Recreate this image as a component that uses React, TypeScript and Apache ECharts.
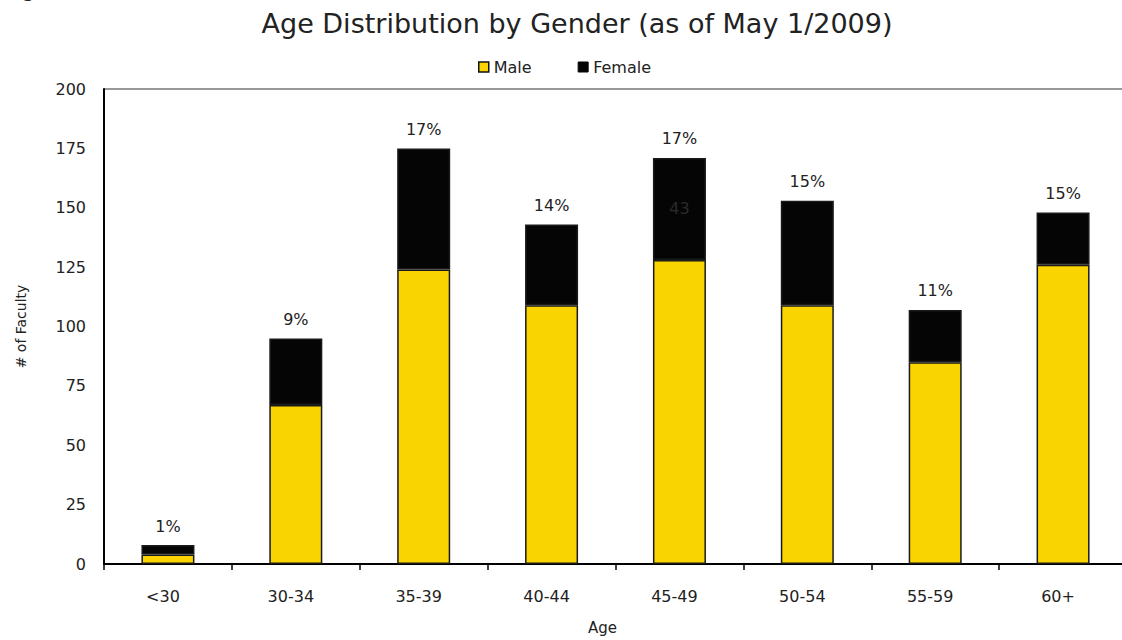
import React, { useEffect, useRef } from "react";
import * as echarts from "echarts";

const categories = ["<30", "30-34", "35-39", "40-44", "45-49", "50-54", "55-59", "60+"];
const maleValues = [4, 67, 124, 109, 128, 109, 85, 126];
const femaleValues = [4, 28, 51, 34, 43, 44, 22, 22];
const percentLabels = ["1%", "9%", "17%", "14%", "17%", "15%", "11%", "15%"];
const yTicks = [0, 25, 50, 75, 100, 125, 150, 175, 200];

const FONT = "DejaVu Sans, Verdana, sans-serif";

export default function App() {
  const ref = useRef<HTMLDivElement>(null);
  useEffect(() => {
    if (!ref.current) return;
    const chart = echarts.init(ref.current, undefined, { renderer: "svg" });
    chart.setOption({
      animation: false,
      textStyle: { fontFamily: FONT },
      title: {
        text: "Age Distribution by Gender (as of May 1/2009)",
        left: 572,
        textAlign: "center",
        top: 5,
        textStyle: { fontFamily: FONT, fontSize: 27, fontWeight: "normal", color: "#222" },
      },
      legend: {
        top: 54,
        left: 473,
        itemWidth: 10,
        itemHeight: 10,
        itemGap: 46,
        icon: "rect",
        textStyle: { fontFamily: FONT, fontSize: 16, color: "#222", padding: [0, 0, 0, 0] },
        data: [
          { name: "Male", itemStyle: { color: "#FAD400", borderColor: "#111", borderWidth: 1.5 } },
          { name: "Female", itemStyle: { color: "#050505", borderColor: "#050505", borderWidth: 1 } },
        ],
      },
      graphic: [
        {
          type: "text",
          left: 22,
          top: -20,
          style: { text: "g", fontFamily: FONT, fontSize: 20, fill: "#222" },
        },
      ],
      grid: {
        left: 104,
        right: 13,
        top: 89,
        bottom: 76,
        show: true,
        borderColor: "#333",
        borderWidth: 1,
      },
      xAxis: {
        type: "category",
        data: categories,
        name: "Age",
        nameLocation: "middle",
        nameGap: 56,
        nameTextStyle: { fontFamily: FONT, fontSize: 15, color: "#222", padding: [0, 26, 0, 0] },
        axisLine: { lineStyle: { color: "#000", width: 2 } },
        axisTick: { show: true, length: 6, lineStyle: { color: "#000", width: 1.5 } },
        axisLabel: { fontFamily: FONT, fontSize: 16, color: "#222", margin: 24, padding: [0, 10, 0, 0] },
      },
      yAxis: {
        type: "value",
        min: yTicks[0],
        max: yTicks[yTicks.length - 1],
        interval: 25,
        name: "# of Faculty",
        nameLocation: "middle",
        nameGap: 76,
        nameRotate: 90,
        nameTextStyle: { fontFamily: FONT, fontSize: 14, color: "#222" },
        axisLine: { show: true, lineStyle: { color: "#000", width: 2 } },
        axisTick: { show: false },
        splitLine: { show: false },
        axisLabel: { fontFamily: FONT, fontSize: 16, color: "#222", margin: 18 },
      },
      series: [
        {
          name: "Male",
          type: "bar",
          stack: "total",
          barWidth: 53,
          data: maleValues,
          itemStyle: { color: "#FAD400", borderColor: "#1a1a1a", borderWidth: 1.5 },
        },
        {
          name: "Female",
          type: "bar",
          stack: "total",
          barWidth: 53,
          data: femaleValues.map((v, i) =>
            i === 4
              ? {
                  value: v,
                  label: {
                    show: true,
                    position: "inside",
                    formatter: String(v),
                    color: "#2a2a2a",
                    fontFamily: FONT,
                    fontSize: 16,
                  },
                }
              : v
          ),
          itemStyle: { color: "#050505", borderColor: "#1a1a1a", borderWidth: 1.5 },
        },
        {
          name: "pct",
          type: "bar",
          stack: "total",
          barWidth: 53,
          data: percentLabels.map(() => 0),
          itemStyle: { color: "transparent", borderWidth: 0 },
          label: {
            show: true,
            position: "top",
            distance: 11,
            formatter: (p: any) => percentLabels[p.dataIndex],
            fontFamily: FONT,
            fontSize: 16,
            color: "#222",
          },
          tooltip: { show: false },
        },
      ],
    });
    return () => chart.dispose();
  }, []);
  return (
    <div
      style={{ position: "absolute", left: 0, top: 0, width: 1122, height: 640, overflow: "hidden", background: "#fff" }}
    >
      <div ref={ref} style={{ width: 1140, height: 640 }} />
    </div>
  );
}
